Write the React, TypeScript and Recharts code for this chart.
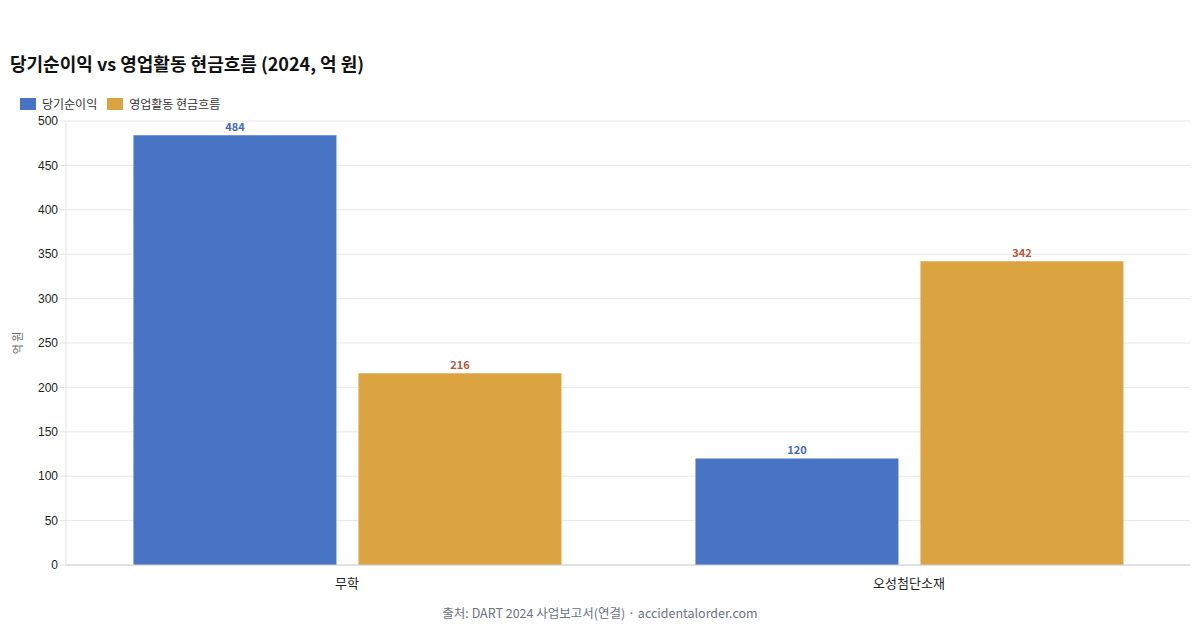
import React from "react";
import { BarChart, Bar, XAxis, YAxis, CartesianGrid, LabelList, Label } from "recharts";

const categories = ["무학", "오성첨단소재"];
const netIncome = [484, 120];
const operatingCF = [216, 342];
const yTicks = [0, 50, 100, 150, 200, 250, 300, 350, 400, 450, 500];

const seriesNames = ["당기순이익", "영업활동 현금흐름"];
const BLUE = "#4874C5";
const ORANGE = "#DBA440";

const data = categories.map((c, i) => ({ name: c, a: netIncome[i], b: operatingCF[i] }));

const KR = '"Noto Sans CJK KR", "Noto Sans", sans-serif';

export default function App() {
  return (
    <div style={{ position: "absolute", left: 0, top: 0, width: 1200, height: 630, background: "#fff", fontFamily: KR }}>
      <div style={{ position: "absolute", left: 10, top: 50, fontSize: 18, fontWeight: 700, color: "#111" }}>
        당기순이익 vs 영업활동 현금흐름 (2024, 억 원)
      </div>
      <div style={{ position: "absolute", left: 20, top: 95, display: "flex", alignItems: "center", fontSize: 12, color: "#333" }}>
        <span style={{ width: 16, height: 12, background: BLUE, display: "inline-block", marginRight: 6 }} />
        <span style={{ marginRight: 10 }}>{seriesNames[0]}</span>
        <span style={{ width: 16, height: 12, background: ORANGE, display: "inline-block", marginRight: 6 }} />
        <span>{seriesNames[1]}</span>
      </div>
      <div style={{ position: "absolute", left: 0, top: 0 }}>
        <BarChart
          width={1200}
          height={630}
          data={data}
          margin={{ top: 121, right: 10, bottom: 35, left: 16 }}
          barCategoryGap="12%"
          barGap={22}
        >
          <CartesianGrid vertical={false} stroke="#e5e7eb" />
          <XAxis
            dataKey="name"
            height={30}
            tickLine={false}
            tickMargin={8}
            axisLine={{ stroke: "#cfcfd4" }}
            tick={{ fontSize: 13, fill: "#222", fontFamily: KR }}
          />
          <YAxis
            width={50}
            domain={[0, 500]}
            ticks={yTicks}
            axisLine={{ stroke: "#e0e0e6" }}
            tickLine={{ stroke: "#e0e0e6" }}
            tick={{ fontSize: 12, fill: "#222", fontFamily: '"Liberation Sans", Arial, sans-serif' }}
          >
            <Label value="억 원" angle={-90} position="insideLeft" offset={2} style={{ fontSize: 11, fill: "#666", fontFamily: KR, textAnchor: "middle" }} />
          </YAxis>
          <Bar dataKey="a" name={seriesNames[0]} fill={BLUE} isAnimationActive={false}>
            <LabelList dataKey="a" position="top" offset={4} style={{ fontSize: 11, fontWeight: 700, fill: "#3F6BC0", fontFamily: KR }} />
          </Bar>
          <Bar dataKey="b" name={seriesNames[1]} fill={ORANGE} isAnimationActive={false}>
            <LabelList dataKey="b" position="top" offset={4} style={{ fontSize: 11, fontWeight: 700, fill: "#B5573A", fontFamily: KR }} />
          </Bar>
        </BarChart>
      </div>
      <div style={{ position: "absolute", left: 0, width: 1200, top: 603, textAlign: "center", fontSize: 12.5, color: "#6b7280" }}>
        출처: DART 2024 사업보고서(연결) · accidentalorder.com
      </div>
    </div>
  );
}
